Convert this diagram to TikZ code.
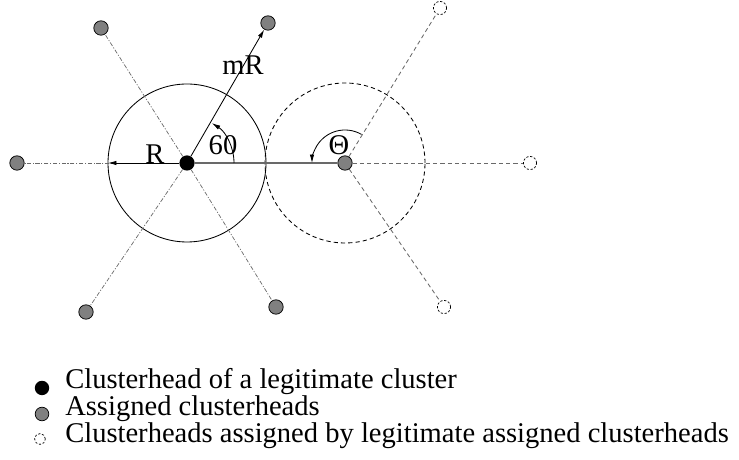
\documentclass[tikz,border=0pt]{standalone}
\usepackage{fontspec}
\setmainfont{Liberation Serif}
\usetikzlibrary{arrows.meta,positioning,calc}
\definecolor{headgray}{RGB}{128,128,128}
\definecolor{wiregray}{RGB}{105,105,105}

\tikzset{
  legit/.style={circle,fill=black,inner sep=0pt,minimum size=0.38cm},
  assigned/.style={circle,draw=black,fill=headgray,line width=0.5pt,inner sep=0pt,minimum size=0.36cm},
  second/.style={circle,draw=black,line width=0.5pt,dash pattern=on 1.6pt off 1.2pt,inner sep=0pt,minimum size=0.33cm},
  chain/.style={draw=wiregray,line width=0.5pt,dash pattern=on 3pt off 1.2pt on 0.8pt off 1.2pt},
  spoke/.style={draw=wiregray,line width=0.6pt,dash pattern=on 3pt off 2.2pt},
  ptr/.style={draw=black,line width=0.6pt,-{Latex[length=6pt,width=3.2pt]}},
  lbl/.style={font=\fontsize{20.3}{24}\selectfont,inner sep=0pt},
  keytext/.style={font=\fontsize{20.3}{17.8}\selectfont,inner sep=0pt,align=left},
}

\begin{document}
\begin{tikzpicture}[x=0.025cm,y=0.025cm]
\useasboundingbox (0,0) rectangle (739,460);

% legitimate cluster
\node[legit] (ch) at (187,297) {};
\draw[line width=0.6pt] (ch) circle[radius=79];

% assigned clusterheads
\node[assigned] (a0)   at (345,297) {};
\node[assigned] (a60)  at (268,437) {};
\node[assigned] (a120) at (101,432) {};
\node[assigned] (a180) at (17,297)  {};
\node[assigned] (a240) at (86,148)  {};
\node[assigned] (a300) at (276,153) {};
\draw[line width=0.6pt,dash pattern=on 3pt off 2.2pt] (a0) circle[radius=80];

% clusterheads assigned by a0
\node[second] (b60)  at (440,452) {};
\node[second] (b0)   at (530,297) {};
\node[second] (b300) at (444,153) {};

\draw[chain] (ch) -- (a120);
\draw[chain] (ch) -- (a240);
\draw[chain] (ch) -- (a300);
\draw[chain] (ch) -- (a180);
\draw[draw=wiregray,line width=1pt] (ch) -- (a0);
\foreach \b in {b60,b0,b300}
  \draw[spoke] (a0) -- (\b);

\coordinate (rim) at ($(ch)+(-79,0)$);
\draw[ptr] (ch) -- (rim);
\draw[ptr] (ch) -- (a60);
\draw[ptr] ($(ch)+(47,0)$) arc[start angle=0,end angle=58,radius=47];
\draw[ptr] ($(a0)+(60:33)$) arc[start angle=60,end angle=180,radius=33];

\node[lbl] (rlab)  at (155,306) {R};
\node[lbl] (mrlab) at (243,395) {mR};
\node[lbl] (alab)  at (223,315) {60};
\node[lbl] (tlab)  at (339,315) {Θ};

% legend
\node[legit,minimum size=0.36cm]    (k1) at (42,72) {};
\node[assigned,minimum size=0.34cm] (k2) at (42,46) {};
\node[second,minimum size=0.27cm]   (k3) at (40,21) {};
\node[keytext,anchor=base west] (keys) at (65,17) {Clusterhead of a legitimate cluster\\
  Assigned clusterheads\\
  Clusterheads assigned by legitimate assigned clusterheads};
\end{tikzpicture}
\end{document}
